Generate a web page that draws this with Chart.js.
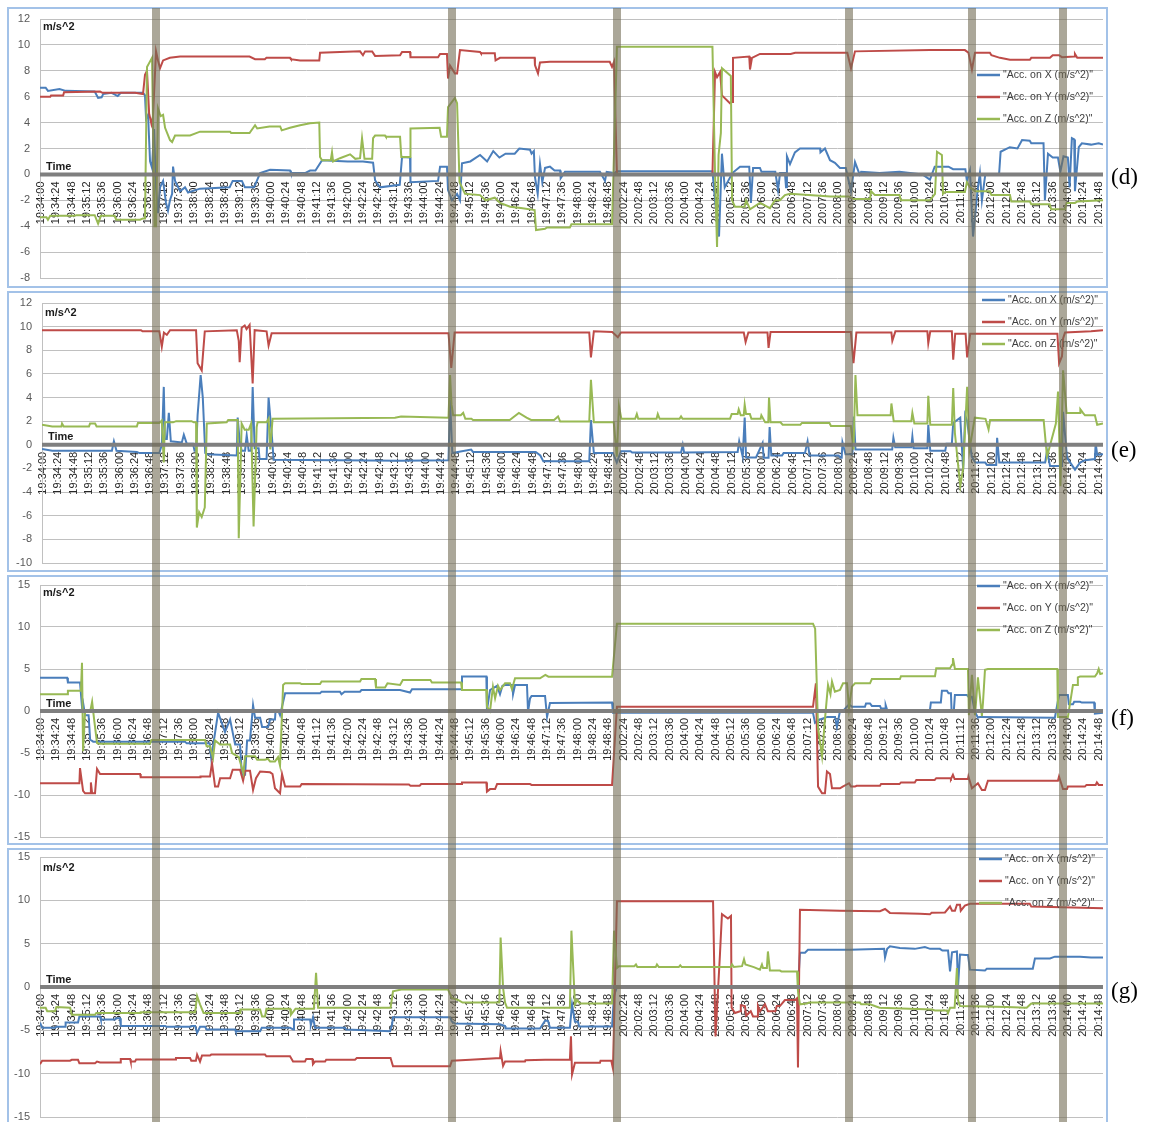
<!DOCTYPE html>
<html><head><meta charset="utf-8">
<script src="https://cdn.jsdelivr.net/npm/chart.js@4/dist/chart.umd.min.js"></script>
<style>
html,body{margin:0;padding:0;background:#fff;overflow:hidden;width:1149px;height:1122px;position:relative;}
.frame{position:absolute;box-sizing:border-box;border:2px solid #a3c2e8;}
canvas.pc{position:absolute;left:0;}
.tag{position:absolute;left:1111px;font-family:"Liberation Serif","DejaVu Serif",serif;font-size:23px;color:#000;line-height:1;}
#ov{position:absolute;left:0;top:0;z-index:5;pointer-events:none;}
</style></head><body>
<div class="frame" style="left:7px;top:7px;width:1101px;height:281px"></div>
<div class="frame" style="left:7px;top:291px;width:1101px;height:281px"></div>
<div class="frame" style="left:7px;top:575px;width:1101px;height:270px"></div>
<div class="frame" style="left:7px;top:848px;width:1101px;height:280px"></div>
<canvas id="cd" class="pc" width="1149" height="289" style="top:0px"></canvas>
<canvas id="ce" class="pc" width="1149" height="284" style="top:289px"></canvas>
<canvas id="cf" class="pc" width="1149" height="273" style="top:573px"></canvas>
<canvas id="cg" class="pc" width="1149" height="280" style="top:846px"></canvas>
<div class="tag" style="top:165px">(d)</div>
<div class="tag" style="top:438px">(e)</div>
<div class="tag" style="top:706px">(f)</div>
<div class="tag" style="top:979px">(g)</div>
<canvas id="ov" width="1149" height="1122"></canvas>
<script>
// ---------- tick labels (category times, one every 24 s, recording gap after 19:48:48) ----------
const timeLabels = ["19:34:00","19:34:24","19:34:48","19:35:12","19:35:36","19:36:00","19:36:24","19:36:48","19:37:12","19:37:36",
"19:38:00","19:38:24","19:38:48","19:39:12","19:39:36","19:40:00","19:40:24","19:40:48","19:41:12","19:41:36",
"19:42:00","19:42:24","19:42:48","19:43:12","19:43:36","19:44:00","19:44:24","19:44:48","19:45:12","19:45:36",
"19:46:00","19:46:24","19:46:48","19:47:12","19:47:36","19:48:00","19:48:24","19:48:48",
"20:02:24","20:02:48","20:03:12","20:03:36","20:04:00","20:04:24","20:04:48","20:05:12","20:05:36","20:06:00",
"20:06:24","20:06:48","20:07:12","20:07:36","20:08:00","20:08:24","20:08:48","20:09:12","20:09:36","20:10:00",
"20:10:24","20:10:48","20:11:12","20:11:36","20:12:00","20:12:24","20:12:48","20:13:12","20:13:36","20:14:00",
"20:14:24","20:14:48"];
const seriesNames = ['"Acc. on X (m/s^2)"','"Acc. on Y (m/s^2)"','"Acc. on Z (m/s^2)"'];
const yUnit = "m/s^2";
const xTitle = "Time";
const panelTags = ["(d)","(e)","(f)","(g)"];
// event markers (position on the label-index axis)
const eventMarks = [7.47, 26.81, 37.57, 52.74, 60.73, 66.67];

// ---------- series values: [label index, m/s^2] ----------
// panel (d)
const dX = [[-0.07,6.7],[0.3,6.7],[0.45,6.45],[1.2,6.6],[1.6,6.45],[3.5,6.4],[3.72,5.9],[3.95,5.95],[4.05,6.2],[4.6,6.3],[5.0,6.05],[5.2,6.3],[6.65,6.3],[6.78,6.1],[6.85,4.3],[6.98,4.6],[7.11,1.0],[7.24,0.5],[7.37,3.5],[7.5,-1.0],[7.63,-3.0],[7.76,-1.0],[7.96,-0.5],[8.15,-2.2],[8.28,-2.8],[8.41,-2.0],[8.55,-1.5],[8.61,0.6],[8.74,-0.5],[9.07,-1.3],[9.39,-1.0],[9.59,-1.4],[10.37,-1.1],[12.3,-1.0],[12.5,-0.5],[13.1,-0.5],[13.3,-1.0],[13.9,-1.0],[14.29,0.1],[14.94,0.35],[16.24,0.3],[16.3,0.1],[17.22,0.1],[17.55,0.3],[17.9,0.3],[18.33,1.1],[20.0,1.0],[21.0,1.0],[21.66,0.9],[21.79,-0.45],[22.11,-1.0],[23.4,-0.8],[23.55,1.35],[24.07,1.3],[24.1,-0.6],[25.9,-0.5],[26.03,0.6],[26.48,0.6],[26.55,-1.2],[26.81,-2.0],[27.14,-1.5],[27.33,-2.0],[27.46,0.85],[28.0,1.0],[28.64,1.5],[29.1,1.0],[29.5,1.8],[29.9,1.3],[30.3,1.6],[30.9,1.6],[31.2,2.0],[31.9,1.9],[32.0,1.6],[32.15,1.8],[32.22,-0.2],[32.4,-1.5],[32.55,0.8],[32.7,-0.6],[32.88,0.5],[33.2,0.6],[33.5,0.3],[33.86,0.3],[33.9,-0.3],[34.18,0.2],[36.46,0.2],[36.79,-0.5],[36.9,0.2],[37.4,0.1],[37.57,0.25],[43.8,0.25],[43.97,-2.0],[44.23,-4.8],[44.42,1.6],[44.6,-1.0],[45.1,0.1],[45.6,0.6],[46.2,0.6],[46.31,-2.2],[46.45,0.5],[46.9,0.5],[47.0,0.2],[47.9,0.2],[48.08,-1.2],[48.21,0.1],[48.53,0.1],[48.6,-1.0],[48.66,1.4],[48.86,0.8],[49.18,1.7],[49.51,2.0],[50.82,2.0],[50.85,1.7],[51.14,2.0],[51.47,1.1],[51.79,0.9],[52.12,0.5],[52.5,0.5],[52.84,-1.3],[53.1,0.95],[53.4,0.0],[53.5,0.2],[54.7,0.1],[56.0,0.2],[57.5,0.0],[57.99,-0.4],[58.3,0.6],[59.2,0.6],[59.5,0.4],[60.3,0.4],[60.4,-0.5],[60.6,0.3],[60.8,-4.8],[61.1,-1.2],[61.25,0.1],[61.38,-2.0],[61.6,0.0],[62.5,0.0],[62.6,1.75],[63.2,2.1],[63.7,2.0],[64.0,2.65],[64.5,2.6],[64.6,2.4],[65.4,2.4],[65.49,-2.0],[65.69,1.6],[66.0,1.3],[66.34,1.3],[66.5,0.2],[66.7,1.4],[66.99,1.3],[67.1,-1.0],[67.25,2.8],[67.4,2.7],[67.45,-1.3],[67.7,2.1],[67.9,2.4],[68.5,2.3],[69.0,2.4],[69.28,2.3]];
const dY = [[-0.07,6.0],[0.6,6.0],[0.65,6.1],[1.44,6.1],[1.5,6.35],[3.85,6.4],[4.0,6.3],[6.13,6.3],[6.65,6.2],[6.78,7.7],[6.91,8.0],[7.05,4.7],[7.2,3.9],[7.3,4.5],[7.5,9.5],[7.63,8.8],[7.76,8.2],[7.96,8.8],[8.4,9.0],[9.07,9.1],[13.6,9.1],[13.96,8.9],[14.6,8.9],[14.7,9.0],[16.24,9.0],[16.3,8.9],[16.9,8.8],[18.15,8.8],[18.2,9.4],[20.81,9.5],[21.0,9.2],[21.14,9.5],[21.6,9.5],[21.79,9.15],[23.42,9.2],[23.55,9.45],[24.07,9.45],[24.1,9.05],[25.9,9.05],[26.03,9.3],[26.48,9.3],[26.55,7.4],[26.68,8.4],[27.0,7.8],[27.14,7.8],[27.33,9.6],[28.64,9.45],[28.7,9.35],[29.6,9.35],[29.65,8.8],[29.94,9.0],[32.2,9.0],[32.22,8.45],[32.42,7.8],[32.55,8.65],[33.2,8.7],[37.1,8.7],[37.25,8.3],[37.38,8.7],[37.57,0.0],[43.8,0.0],[43.97,7.9],[44.1,7.5],[44.3,7.9],[44.42,6.1],[44.94,5.5],[45.08,5.6],[45.14,9.0],[46.2,9.1],[46.25,8.1],[46.38,9.0],[46.9,9.3],[48.9,9.3],[49.2,9.4],[52.6,9.4],[52.84,8.2],[53.1,9.5],[57.99,9.6],[60.27,9.6],[60.5,9.4],[60.73,8.1],[60.93,9.4],[61.9,9.4],[62.0,9.2],[62.56,9.0],[63.21,8.85],[64.51,8.85],[64.6,9.0],[65.82,9.0],[66.0,9.2],[66.41,9.2],[66.6,9.05],[67.4,9.1],[67.45,9.3],[67.6,9.0],[69.28,9.0]];
const dZ = [[-0.07,-3.3],[0.35,-3.3],[0.45,-3.5],[0.6,-3.2],[2.2,-3.2],[2.3,-3.15],[3.5,-3.15],[3.72,-3.8],[3.9,-3.2],[4.8,-3.2],[4.9,-3.5],[6.46,-3.5],[6.65,-3.4],[6.78,-3.4],[6.91,8.3],[7.24,9.0],[7.4,-4.0],[7.5,-4.0],[7.63,5.1],[7.8,4.5],[7.96,4.6],[8.09,3.6],[8.41,2.65],[8.55,2.5],[8.74,3.0],[9.72,3.0],[10.37,3.3],[12.33,3.3],[12.4,3.2],[13.6,3.2],[13.96,3.8],[14.1,3.55],[14.9,3.7],[15.6,3.7],[15.7,3.4],[16.24,3.6],[16.9,3.8],[17.55,3.95],[18.15,4.0],[18.2,1.35],[18.33,1.1],[18.9,1.1],[18.98,1.7],[19.05,1.0],[19.5,1.25],[20.16,1.55],[20.5,1.2],[20.81,1.25],[20.94,2.8],[21.1,1.2],[21.6,1.2],[21.66,2.8],[21.79,3.0],[22.44,3.0],[22.5,2.9],[23.42,2.9],[23.5,1.35],[24.07,1.35],[24.1,3.55],[26.0,3.6],[26.1,2.9],[26.48,2.9],[26.55,5.2],[27.0,5.9],[27.14,5.5],[27.3,-0.6],[27.66,-1.5],[28.64,-1.6],[29.0,-2.0],[29.6,-1.8],[29.94,-2.2],[30.6,-2.5],[31.3,-2.6],[32.2,-2.75],[32.29,-4.3],[32.88,-4.2],[33.0,-4.1],[34.5,-4.1],[34.6,-3.85],[37.25,-3.85],[37.57,9.85],[43.8,9.85],[43.97,0.0],[44.1,-5.6],[44.2,1.5],[44.35,3.2],[44.42,8.2],[45.0,7.6],[45.08,-2.0],[45.27,-2.5],[45.9,-2.5],[46.0,-2.0],[46.25,-2.7],[46.9,-2.2],[47.55,-2.6],[47.88,-2.0],[48.2,-2.0],[48.53,-1.6],[48.86,-1.5],[51.5,-1.7],[52.7,-1.7],[53.0,-1.9],[54.08,-1.9],[54.15,-1.3],[54.4,-1.6],[56.0,-1.6],[56.1,-2.0],[57.99,-2.0],[58.32,-1.5],[58.45,1.75],[58.77,1.5],[58.84,-1.5],[59.0,-1.35],[60.27,-1.35],[60.4,-0.6],[60.6,-1.0],[60.93,-1.3],[61.9,-1.3],[62.0,-1.6],[63.21,-1.6],[63.3,-2.1],[64.51,-2.1],[64.6,-2.3],[65.8,-2.3],[65.9,-2.7],[66.8,-2.7],[66.9,-2.2],[67.45,-2.2],[67.6,-2.1],[69.28,-2.0]];
// panel (e)
const eX = [[-0.07,-0.35],[0.6,-0.5],[4.5,-0.5],[4.63,0.3],[4.8,-0.5],[6.13,-0.6],[6.3,-0.7],[7.6,-0.7],[7.76,0.0],[7.89,4.9],[7.96,0.5],[8.09,0.5],[8.22,2.7],[8.35,0.3],[9.07,0.2],[9.2,0.85],[9.39,0.1],[9.8,0.1],[9.9,-0.5],[10.0,-0.5],[10.1,2.5],[10.3,5.9],[10.44,4.0],[10.6,-0.7],[10.7,-0.8],[12.66,-0.9],[12.72,2.3],[12.85,0.3],[12.98,-0.5],[13.2,-0.5],[13.31,0.8],[13.44,-0.5],[13.6,-0.5],[13.7,4.9],[13.83,-0.3],[14.09,-0.3],[14.15,-1.2],[14.61,-1.2],[14.74,4.0],[14.94,1.0],[15.07,-1.27],[23.4,-1.35],[26.5,-1.3],[26.6,3.8],[26.75,-0.7],[27.98,-0.4],[28.1,-0.6],[32.2,-0.6],[32.5,-0.9],[32.7,-1.4],[35.7,-1.4],[35.81,2.1],[36.0,-0.7],[37.25,-0.7],[37.5,-1.5],[37.77,-0.55],[38.4,-0.55],[38.5,-0.65],[41.7,-0.65],[41.81,0.0],[41.9,-0.65],[45.4,-0.6],[45.5,0.3],[45.73,-1.0],[45.86,2.3],[45.95,-1.07],[46.6,-1.07],[47.03,0.15],[47.1,-1.1],[47.42,-1.1],[47.49,1.5],[47.6,-0.9],[48.3,-0.9],[48.4,-0.7],[49.8,-0.7],[49.97,0.3],[50.1,-0.9],[52.0,-0.9],[52.12,-1.1],[52.2,-1.1],[52.25,0.2],[52.45,-0.8],[52.9,-0.8],[53.0,2.4],[53.1,-0.4],[55.5,-0.4],[55.58,0.6],[55.7,-0.2],[56.75,-0.2],[56.82,0.7],[56.9,-0.3],[57.8,-0.3],[57.86,1.7],[57.99,-0.5],[58.97,-0.5],[59.05,0.1],[59.4,0.1],[59.49,1.85],[59.95,2.3],[60.14,-2.1],[60.27,2.5],[60.4,2.0],[60.7,-1.0],[60.93,-1.5],[61.58,-1.5],[61.7,-1.7],[62.3,-1.7],[62.36,0.6],[62.5,-1.5],[65.5,-1.5],[65.62,-0.5],[65.82,-1.8],[66.6,-1.8],[66.67,2.8],[66.93,-1.1],[67.45,-2.1],[67.78,-1.5],[68.1,-1.3],[68.75,-1.2],[68.8,0.15],[68.9,-0.85],[69.28,-0.8]];
const eY = [[-0.07,9.7],[6.4,9.7],[6.5,9.6],[7.6,9.6],[7.76,8.3],[7.9,9.5],[8.09,9.3],[8.3,9.7],[10.0,9.7],[10.1,6.9],[10.37,6.3],[10.57,9.6],[12.66,9.7],[12.79,8.8],[12.85,7.0],[12.98,9.9],[13.18,10.1],[13.3,9.8],[13.5,10.15],[13.7,5.2],[13.83,9.7],[14.61,9.6],[14.74,8.4],[14.94,9.45],[26.5,9.45],[26.68,6.5],[26.9,9.5],[35.7,9.5],[35.81,7.4],[36.0,9.6],[37.2,9.55],[37.57,9.1],[37.77,9.5],[45.8,9.5],[45.92,8.7],[46.1,9.5],[47.35,9.5],[47.42,8.2],[47.55,9.55],[52.8,9.55],[52.97,6.9],[53.16,9.5],[55.45,9.5],[55.51,8.8],[55.71,9.6],[57.8,9.6],[57.86,8.6],[57.99,9.6],[59.4,9.6],[59.49,7.2],[59.62,9.4],[60.3,9.4],[60.4,7.4],[60.6,9.4],[66.3,9.4],[66.41,6.9],[66.6,7.5],[66.67,9.0],[66.8,9.5],[68.5,9.6],[69.28,9.7]];
const eZ = [[-0.07,1.7],[0.6,1.55],[1.2,1.55],[1.24,1.8],[1.35,1.55],[3.0,1.55],[3.07,1.8],[3.4,1.8],[3.5,1.55],[6.13,1.55],[6.2,1.85],[7.6,1.85],[7.76,2.05],[7.89,-1.5],[7.96,1.9],[8.5,1.9],[8.7,2.0],[9.7,2.0],[9.85,1.9],[10.0,1.9],[10.05,-7.0],[10.2,-5.7],[10.37,-6.1],[10.57,-5.3],[10.7,1.8],[12.0,1.9],[12.1,2.1],[12.72,2.1],[12.79,-7.9],[12.98,1.8],[13.18,1.27],[13.44,1.27],[13.6,1.8],[13.76,-6.9],[13.96,1.5],[14.02,1.9],[14.61,1.9],[14.74,2.2],[14.85,-0.4],[15.0,2.2],[23.0,2.3],[23.4,2.4],[26.5,2.3],[26.6,5.9],[26.7,3.4],[26.8,2.5],[27.3,2.5],[27.46,2.7],[27.6,2.2],[28.0,2.2],[28.1,2.1],[30.5,2.1],[31.1,2.7],[31.6,2.3],[31.9,2.1],[33.4,2.1],[33.66,2.4],[33.8,1.97],[35.7,1.97],[35.81,5.5],[36.0,1.9],[37.3,1.9],[37.5,-1.0],[37.64,3.3],[37.8,2.2],[38.7,2.2],[38.81,2.6],[38.9,2.2],[40.1,2.2],[40.18,2.6],[40.3,2.2],[41.6,2.2],[41.7,2.4],[41.8,2.2],[44.9,2.2],[45.01,2.6],[45.4,2.6],[45.47,3.0],[45.6,2.5],[45.8,2.5],[45.86,3.4],[45.95,2.6],[46.2,2.6],[46.3,2.2],[46.9,2.2],[46.95,2.5],[47.2,1.9],[47.4,1.9],[47.45,4.0],[47.55,1.9],[48.2,1.9],[48.34,1.7],[49.5,1.7],[49.6,1.85],[51.4,1.85],[51.5,1.6],[52.8,1.6],[52.97,-0.4],[53.1,5.9],[53.23,2.5],[55.4,2.5],[55.45,3.5],[55.6,2.0],[56.75,2.0],[56.82,2.7],[56.95,1.8],[57.8,1.8],[57.86,4.15],[57.99,1.7],[59.4,1.7],[59.49,4.8],[59.6,1.0],[59.95,-3.5],[60.14,-2.0],[60.4,4.9],[60.55,-0.4],[60.9,2.3],[61.6,2.2],[61.8,1.3],[61.9,2.1],[65.4,2.1],[65.62,-1.0],[66.2,1.8],[66.34,4.5],[66.5,-3.5],[66.67,6.3],[66.9,2.7],[67.78,2.7],[67.8,3.0],[67.97,2.7],[68.1,2.5],[68.75,2.5],[68.9,1.7],[69.28,1.8]];
// panel (f)
const fX = [[-0.07,3.97],[1.7,3.97],[1.75,3.4],[2.54,3.4],[2.67,0.5],[2.74,1.0],[2.87,-0.5],[3.1,-0.5],[3.2,-3.4],[3.4,-3.65],[9.39,-3.65],[9.5,-3.85],[11.0,-3.85],[11.1,-5.6],[11.55,-0.2],[12.0,-2.5],[12.33,-1.0],[12.66,-4.0],[12.98,-4.0],[13.1,-7.6],[13.31,-7.6],[13.44,-3.5],[13.63,-3.5],[13.83,0.7],[13.96,-0.8],[14.29,-0.8],[14.42,-1.9],[14.81,-1.9],[14.94,-1.0],[15.26,-1.0],[15.3,0.1],[15.46,0.1],[15.59,-0.5],[15.72,0.5],[15.92,2.1],[18.2,2.1],[18.3,2.3],[19.5,2.3],[19.6,2.0],[19.8,2.3],[20.81,2.3],[20.9,2.5],[23.42,2.5],[24.07,2.2],[24.2,2.6],[27.4,2.6],[27.46,4.1],[29.05,4.1],[29.09,0.1],[29.29,2.5],[29.75,3.0],[29.94,2.0],[30.1,3.0],[30.27,3.1],[30.75,3.1],[30.79,2.0],[30.92,3.1],[31.7,3.1],[31.77,-0.1],[31.9,1.5],[32.0,1.8],[32.88,1.8],[33.01,-0.7],[33.2,0.95],[37.25,1.0],[37.31,-0.2],[50.36,-0.2],[50.49,-1.4],[50.82,-1.0],[51.3,-0.7],[51.8,-0.7],[51.92,-1.9],[52.12,0.0],[52.32,0.0],[52.71,0.8],[52.9,0.5],[53.75,0.5],[53.82,0.9],[54.08,0.9],[54.2,0.6],[54.73,0.6],[54.8,0.3],[55.06,0.3],[55.1,0.7],[55.2,0.1],[57.99,0.1],[58.05,1.0],[58.7,1.0],[58.77,2.4],[59.1,2.4],[59.2,2.1],[59.36,2.1],[59.4,0.1],[59.55,0.1],[59.62,1.9],[60.4,1.9],[60.5,1.7],[60.73,1.7],[60.93,-0.1],[61.12,-0.8],[61.25,-0.7],[66.14,-0.8],[66.41,1.9],[66.99,1.9],[67.05,0.8],[67.32,0.8],[67.4,1.1],[67.78,1.1],[67.9,1.0],[68.7,1.0],[68.75,-0.3],[69.28,-0.2]];
const fY = [[-0.07,-8.6],[2.5,-8.6],[2.54,-6.8],[2.74,-9.5],[2.87,-9.8],[3.2,-9.8],[3.25,-8.5],[3.33,-9.8],[3.52,-9.8],[3.65,-6.9],[3.85,-7.5],[6.46,-7.5],[6.5,-7.9],[10.37,-7.9],[10.4,-7.8],[11.02,-7.8],[11.15,-6.2],[11.35,-9.0],[11.55,-9.0],[11.68,-8.0],[12.33,-8.0],[12.5,-7.0],[12.98,-7.0],[13.18,-8.3],[13.31,-7.1],[13.63,-7.1],[13.83,-9.4],[14.02,-8.0],[14.29,-7.2],[14.94,-7.3],[15.1,-7.5],[15.26,-9.2],[15.59,-9.8],[15.72,-7.5],[15.92,-9.0],[16.9,-9.0],[17.0,-8.7],[24.0,-8.75],[24.1,-8.9],[24.7,-8.9],[24.8,-8.7],[27.4,-8.7],[27.46,-8.5],[29.05,-8.5],[29.09,-9.6],[29.29,-9.3],[29.62,-9.3],[29.75,-8.7],[31.9,-8.7],[32.0,-8.8],[37.25,-8.8],[37.57,0.5],[50.36,0.5],[50.55,3.3],[50.69,-9.0],[50.95,-9.8],[51.14,-9.8],[51.27,-7.2],[51.47,-7.5],[51.6,-9.2],[52.12,-9.2],[52.3,-9.0],[52.71,-8.6],[52.84,-9.0],[53.1,-9.0],[53.2,-8.9],[54.73,-8.9],[54.8,-8.7],[56.0,-8.7],[56.1,-8.5],[57.0,-8.5],[57.1,-8.2],[58.3,-8.2],[58.4,-8.0],[59.3,-8.0],[59.36,-8.1],[59.49,-7.6],[59.6,-8.1],[60.47,-8.1],[60.5,-7.8],[60.73,-9.2],[61.12,-8.6],[61.38,-9.4],[61.58,-9.4],[61.77,-8.3],[66.34,-8.3],[66.41,-7.8],[66.67,-9.3],[66.93,-9.3],[66.99,-9.0],[68.1,-9.0],[68.2,-8.8],[68.8,-8.8],[68.88,-8.5],[69.0,-8.8],[69.28,-8.8]];
const fZ = [[-0.07,2.0],[1.7,2.0],[1.75,2.4],[2.6,2.4],[2.67,5.75],[2.74,-4.8],[2.87,-0.1],[3.2,-0.1],[3.33,1.1],[3.46,-1.0],[3.65,-3.8],[3.8,-3.9],[7.11,-3.9],[7.2,-3.45],[10.7,-3.45],[10.8,-4.2],[11.02,-4.2],[11.22,-5.6],[11.35,-3.5],[11.68,-4.0],[12.33,-4.0],[12.46,-5.0],[12.9,-5.5],[13.2,-7.4],[13.31,-5.4],[13.96,-5.4],[14.1,-5.8],[14.61,-5.8],[14.8,-5.7],[14.94,-6.0],[15.26,-6.0],[15.46,-5.5],[15.59,-6.5],[15.79,3.1],[15.92,3.3],[16.9,3.3],[17.0,3.2],[18.2,3.2],[18.3,3.5],[20.81,3.5],[20.9,3.8],[21.79,3.8],[21.85,2.8],[22.44,2.8],[22.6,3.3],[23.42,3.1],[23.6,3.7],[25.4,3.7],[25.5,3.4],[27.4,3.4],[27.46,2.5],[29.05,2.5],[29.09,0.5],[29.29,0.0],[29.48,2.9],[29.62,1.5],[29.81,3.0],[29.94,2.5],[30.27,3.3],[30.59,3.3],[30.72,2.6],[30.92,3.9],[32.55,3.9],[32.9,4.3],[33.1,4.08],[37.25,4.08],[37.57,10.4],[50.36,10.4],[50.5,9.8],[50.69,-2.0],[50.95,-5.4],[51.14,-1.0],[51.34,3.1],[51.5,2.0],[51.6,3.5],[51.79,2.3],[52.12,2.5],[52.32,3.3],[52.58,3.3],[52.71,0.3],[52.9,2.9],[53.1,3.3],[54.08,3.3],[54.2,3.8],[56.03,3.8],[56.1,4.15],[58.32,4.15],[58.4,5.1],[59.3,5.1],[59.43,5.5],[59.49,6.3],[59.62,5.0],[60.47,5.0],[60.53,-0.5],[60.73,4.3],[60.93,-0.5],[61.12,4.0],[61.38,-0.6],[61.45,1.0],[61.58,4.9],[61.77,5.0],[66.3,5.0],[66.34,-0.7],[66.99,-0.7],[67.32,3.1],[67.6,3.1],[67.64,4.0],[67.78,4.1],[68.75,4.1],[68.9,4.5],[69.0,5.0],[69.1,4.4],[69.28,4.5]];
// panel (g)
const gX = [[-0.07,-4.1],[0.07,-4.7],[0.91,-4.7],[1.0,-4.6],[1.57,-4.6],[1.6,-4.1],[2.41,-4.1],[2.5,-3.4],[3.85,-3.4],[3.9,-3.75],[4.83,-3.75],[4.9,-3.6],[5.15,-3.6],[5.2,-4.5],[8.09,-4.5],[8.2,-4.6],[9.72,-4.6],[9.85,-4.5],[10.05,-4.5],[10.18,-5.3],[10.37,-4.6],[10.7,-4.6],[10.8,-4.9],[12.66,-4.9],[12.7,-5.1],[14.29,-5.1],[14.4,-4.7],[16.24,-4.7],[16.44,-4.9],[16.5,-3.75],[17.55,-3.75],[17.6,-4.4],[17.74,-3.5],[17.87,-4.7],[19.83,-4.7],[19.9,-4.9],[21.2,-5.0],[22.77,-5.1],[22.9,-4.3],[22.96,-3.5],[26.68,-3.5],[26.8,-4.0],[27.0,-4.2],[29.94,-4.3],[30.27,-4.5],[30.3,-4.8],[32.55,-4.8],[32.88,-3.9],[33.07,-3.9],[33.2,-4.7],[34.5,-4.7],[34.64,-2.0],[34.83,-4.0],[35.03,-4.0],[35.1,-4.55],[37.25,-4.55],[37.38,-1.0],[37.57,0.0],[49.38,0.0],[49.51,3.95],[49.84,3.95],[50.03,4.3],[52.77,4.3],[55.0,4.4],[55.06,3.4],[55.2,4.4],[55.38,4.7],[56.03,4.5],[57.0,4.4],[57.66,4.6],[58.0,4.4],[58.64,4.4],[58.8,4.2],[59.17,4.2],[59.3,1.8],[59.43,4.0],[59.75,4.1],[59.82,0.0],[59.95,3.75],[60.3,3.7],[60.47,3.7],[60.6,2.0],[61.58,1.9],[61.7,2.1],[64.7,2.1],[64.84,3.3],[65.82,3.3],[66.14,3.5],[67.78,3.5],[68.5,3.4],[69.28,3.4]];
const gY = [[-0.07,-8.9],[0.07,-8.5],[1.89,-8.5],[2.0,-8.4],[2.41,-8.4],[2.5,-8.8],[3.52,-8.8],[3.65,-8.6],[3.85,-8.7],[5.15,-8.7],[5.2,-8.3],[5.81,-8.3],[5.85,-8.6],[6.13,-8.6],[6.2,-8.36],[8.74,-8.36],[8.8,-8.2],[9.72,-8.2],[9.8,-8.5],[10.1,-8.5],[10.18,-7.8],[10.37,-8.6],[10.5,-7.9],[11.02,-7.9],[11.1,-7.8],[14.61,-7.8],[14.7,-8.0],[16.24,-8.0],[16.44,-8.6],[17.22,-8.6],[17.3,-8.3],[17.7,-8.3],[17.74,-8.9],[17.87,-8.6],[18.53,-8.6],[18.6,-8.4],[20.48,-8.4],[20.6,-8.2],[22.8,-8.2],[22.96,-9.15],[26.68,-9.15],[26.8,-8.5],[28.0,-8.4],[29.94,-8.2],[29.98,-7.4],[30.14,-9.1],[30.27,-8.6],[31.57,-8.6],[31.6,-8.45],[32.88,-8.4],[34.5,-8.4],[34.57,-5.7],[34.64,-10.1],[34.83,-8.75],[36.46,-8.75],[36.5,-8.5],[37.2,-8.5],[37.31,-9.4],[37.57,9.9],[43.84,9.9],[44.0,-5.7],[44.29,3.75],[44.42,8.4],[44.81,7.9],[45.01,8.2],[45.05,-2.4],[45.27,-3.0],[45.6,-2.8],[45.65,-2.1],[45.92,-2.2],[46.0,-3.3],[46.3,-2.8],[46.45,-3.4],[46.71,-3.4],[46.77,-2.2],[46.9,-2.8],[47.23,-2.0],[47.42,-2.8],[47.9,-2.8],[48.0,-2.2],[48.2,-2.2],[48.53,-1.5],[49.2,-1.5],[49.32,-1.3],[49.38,-9.3],[49.51,8.9],[52.12,8.8],[54.73,8.75],[55.06,9.0],[55.38,8.55],[57.34,8.45],[57.99,8.4],[58.1,8.56],[58.97,8.6],[59.3,9.3],[59.43,8.8],[59.62,8.8],[59.75,9.5],[59.95,9.5],[60.0,8.8],[60.27,9.4],[60.6,9.6],[64.5,9.6],[64.6,9.3],[69.28,9.1]];
const gZ = [[-0.07,-2.4],[0.3,-2.4],[0.4,-2.8],[0.91,-2.8],[1.0,-2.3],[1.9,-2.4],[2.0,-3.2],[3.52,-3.2],[3.6,-3.0],[6.46,-3.0],[6.5,-2.9],[10.05,-2.9],[10.18,-1.05],[10.37,-2.0],[10.6,-3.0],[12.98,-3.0],[13.0,-2.6],[14.29,-2.6],[14.42,-3.4],[14.61,-3.4],[14.7,-2.5],[16.24,-2.5],[16.3,-3.2],[16.6,-2.5],[17.8,-2.5],[17.94,1.64],[18.07,-2.4],[22.8,-2.4],[22.96,-0.5],[23.5,-0.3],[26.55,-0.3],[26.8,-1.25],[27.2,-1.5],[27.5,-1.8],[29.9,-1.8],[29.98,5.7],[30.14,-0.1],[30.27,-1.8],[30.4,-2.4],[34.5,-2.4],[34.6,6.5],[34.83,-2.0],[34.96,-1.5],[35.16,-1.9],[37.25,-1.9],[37.38,6.5],[37.57,2.2],[37.7,2.4],[38.7,2.4],[38.81,2.6],[38.9,2.3],[40.1,2.3],[40.18,2.6],[40.3,2.3],[41.6,2.3],[41.7,2.5],[41.8,2.3],[45.0,2.3],[45.08,2.6],[45.2,2.3],[45.73,2.4],[45.86,3.2],[45.95,2.6],[46.5,2.3],[46.9,2.0],[47.03,2.6],[47.1,2.2],[47.35,2.2],[47.42,4.1],[47.55,1.9],[48.2,1.9],[48.3,1.8],[49.32,1.8],[49.38,-0.5],[49.51,-2.0],[49.97,-1.9],[50.1,-1.8],[53.42,-1.8],[53.5,-2.0],[54.08,-2.0],[54.7,-2.4],[58.12,-2.6],[58.32,-2.7],[59.1,-2.7],[59.17,-3.0],[59.3,-2.4],[59.6,-2.4],[59.75,2.2],[59.82,-1.5],[59.95,-2.2],[63.0,-2.3],[64.3,-2.4],[64.6,-1.9],[69.28,-1.9]];

// ---------- drawing ----------
const COLORS = ['#4a7ebb', '#be4b48', '#98b954'];
Chart.defaults.font.family = '"Liberation Sans", Arial, sans-serif';

const deco = {
  id: 'deco',
  afterDatasetsDraw(chart, args, o) {
    const ctx = chart.ctx, ca = chart.chartArea;
    const y0 = chart.scales.y.getPixelForValue(0);
    ctx.save();
    // horizontal category axis crossing at 0 (drawn over the series, as in the original)
    ctx.strokeStyle = '#7f7f7f'; ctx.lineWidth = 4;
    ctx.beginPath(); ctx.moveTo(ca.left, y0); ctx.lineTo(ca.right, y0); ctx.stroke();
    ctx.restore();
  },
  afterDraw(chart, args, o) {
    const ctx = chart.ctx, ca = chart.chartArea;
    const y0 = chart.scales.y.getPixelForValue(0);
    ctx.save();
    ctx.font = '10.5px "Liberation Sans", Arial, sans-serif';
    ctx.textBaseline = 'middle'; ctx.textAlign = 'left';
    chart.data.datasets.forEach((ds, k) => {
      const y = ca.top + o.legendTop + k * 22;
      ctx.strokeStyle = ds.borderColor; ctx.lineWidth = 2.5;
      ctx.beginPath(); ctx.moveTo(o.legendX, y); ctx.lineTo(o.legendX + 23, y); ctx.stroke();
      ctx.fillStyle = '#404040';
      ctx.fillText(ds.label, o.legendX + 26, y);
    });
    ctx.font = 'bold 11px "Liberation Sans", Arial, sans-serif';
    ctx.fillStyle = '#1a1a1a';
    ctx.fillText(yUnit, ca.left + 3, ca.top + o.unitDy);
    ctx.fillText(xTitle, ca.left + 6, y0 - 7.5);
    ctx.restore();
  }
};

function makePanel(id, series, ymin, ymax, ystep, pad, yw, legendX, legendTop, unitDy) {
  const ds = series.map((s, k) => ({
    label: seriesNames[k],
    data: s.map(p => ({ x: p[0], y: p[1] })),
    borderColor: COLORS[k], backgroundColor: COLORS[k],
    borderWidth: 2, pointRadius: 0, tension: 0, fill: false,
    order: 2 - k
  }));
  return new Chart(document.getElementById(id), {
    type: 'line',
    data: { datasets: ds },
    plugins: [deco],
    options: {
      responsive: false, animation: false, devicePixelRatio: 1,
      layout: { padding: { top: pad[0], bottom: pad[1], left: 0, right: 46 } },
      plugins: { legend: { display: false }, tooltip: { enabled: false },
                 deco: { legendX, legendTop, unitDy } },
      scales: {
        x: {
          type: 'linear', min: -0.07, max: 69.28,
          position: { y: 0 },
          afterFit: s => { s.height = 0; },
          afterBuildTicks: s => { s.ticks = timeLabels.map((_, i) => ({ value: i })); },
          grid: { display: false, drawTicks: false },
          border: { display: false },
          ticks: {
            autoSkip: false, minRotation: 90, maxRotation: 90, padding: 7,
            color: '#262626', font: { size: 11 },
            callback: v => timeLabels[v]
          }
        },
        y: {
          type: 'linear', min: ymin, max: ymax,
          afterFit: s => { s.width = yw; },
          grid: { color: '#c0c0c0', lineWidth: 1, drawTicks: true, tickLength: 10, tickColor: 'rgba(0,0,0,0)' },
          border: { display: true, color: '#c0c0c0', width: 1 },
          ticks: { stepSize: ystep, padding: 0, color: '#595959', font: { size: 11 } }
        }
      }
    }
  });
}

const charts = [
  makePanel('cd', [dX, dY, dZ], -8, 12, 2, [19, 11], 40, 977, 56, 8),
  makePanel('ce', [eX, eY, eZ], -10, 12, 2, [14, 10], 42, 982, -3, 10),
  makePanel('cf', [fX, fY, fZ], -15, 15, 5, [12, 9], 40, 977, 1, 8),
  makePanel('cg', [gX, gY, gZ], -15, 15, 5, [11, 9], 40, 979, 2, 11)
];

// event bars crossing all four panels, placed with panel (d)'s x scale
const ov = document.getElementById('ov');
const octx = ov.getContext('2d');
const xs = charts[0].scales.x;
octx.fillStyle = 'rgba(115,108,85,0.6)';
eventMarks.forEach(v => {
  const px = xs.getPixelForValue(v);
  octx.fillRect(Math.round(px) - 4, 8, 8, 1114);
});
</script>
</body></html>
